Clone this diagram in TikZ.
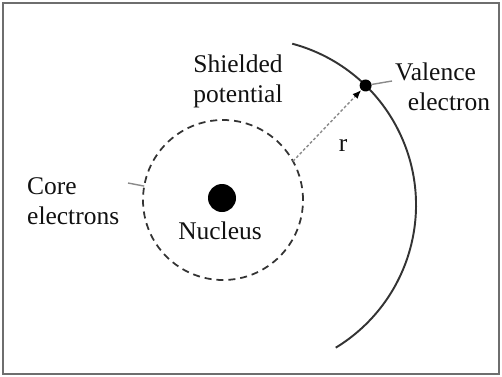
\documentclass[tikz,border=0pt]{standalone}
\usepackage{fontspec}
\setmainfont{Liberation Serif}
\usepackage{tikz}
\usetikzlibrary{positioning,arrows.meta,calc}
\definecolor{FrameGray}{HTML}{6E6E6E}
\definecolor{LineDark}{HTML}{333333}
\definecolor{TickGray}{HTML}{8A8A8A}
\definecolor{TextDark}{HTML}{111111}

\begin{document}
\begin{tikzpicture}[every node/.style={font=\fontsize{14.5}{17}\selectfont, text=TextDark, align=left},
    particle/.style={circle, fill=black, inner sep=0pt}]
        \useasboundingbox (0,0) rectangle (10.04,7.52);
        \draw[FrameGray, line width=0.9pt] (0.06,0.04) rectangle (9.98,7.46);
        % core region and nucleus
        \coordinate (core) at (4.46,3.52);
        \draw[LineDark, line width=1pt, dash pattern=on 4pt off 2.8pt] (core) circle (1.6);
        \node[particle, minimum size=0.56cm] (nucleus) at (4.44,3.56) {};
        \node (nuclab) at (4.40,2.90) {Nucleus};
        % valence orbit
        \coordinate (orbit) at (4.98,3.42);
        \draw[LineDark, line width=1.1pt] ($(orbit)+(75:3.34)$) arc[start angle=75, end angle=-58.7, radius=3.34];
        \node[particle, minimum size=0.24cm] (valence) at ($(orbit)+(45.7:3.34)$) {};
        \node (vallab) at (8.98,5.78) {\hspace*{-0.5em}Valence\\ electron};
        \coordinate (valtick) at (7.84,5.90);
        \draw[TickGray, line width=0.8pt] (valence) -- (valtick);
        % radius
        \coordinate (rstart) at ($(core)+(29:1.6)$);
        \draw[TickGray, line width=0.8pt, dash pattern=on 1.6pt off 1.2pt, -{Latex[length=5pt,width=4pt,black]}] (rstart) -- (valence);
        \node (rlab) at (6.86,4.62) {r};
        % labels
        \node (shield) at (4.76,5.90) {Shielded\\potential};
        \node[anchor=west] (corelab) at (0.42,3.50) {Core\\ electrons};
        \coordinate (coretick) at (2.56,3.86);
        \draw[TickGray, line width=0.8pt] (coretick) -- ($(core)+(170:1.6)$);
      \end{tikzpicture}
\end{document}
